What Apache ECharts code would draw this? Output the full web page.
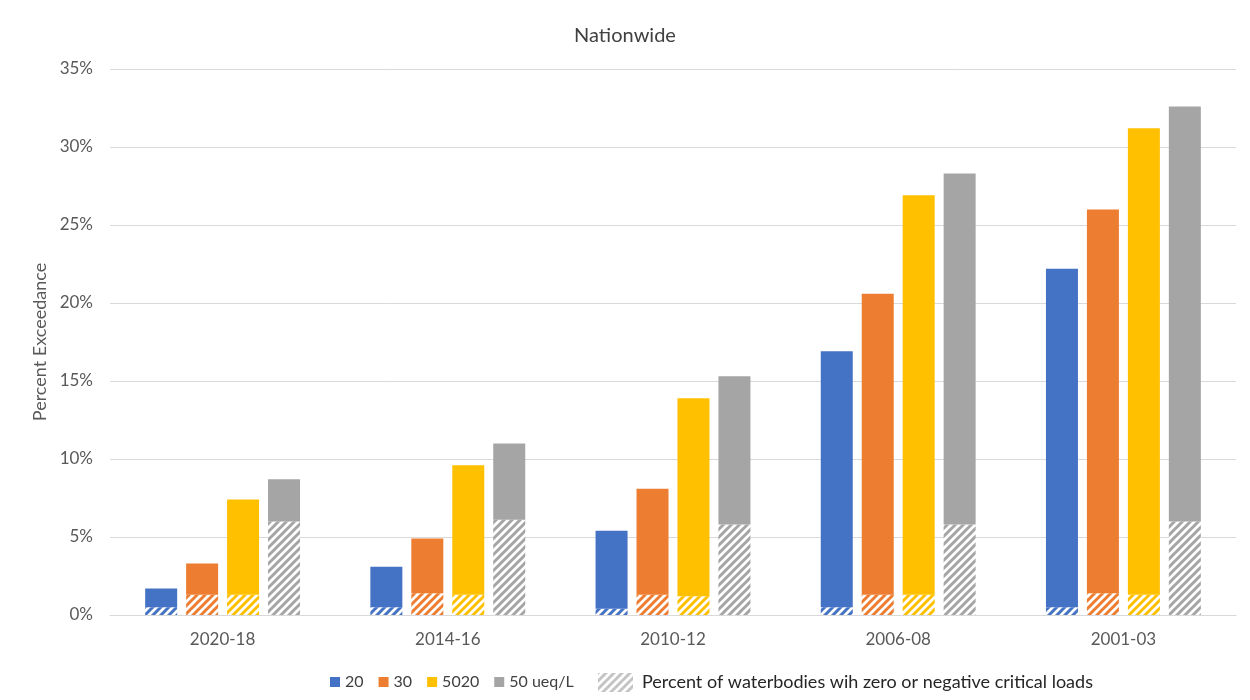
<!DOCTYPE html>
<html>
<head>
<meta charset="utf-8">
<script src="https://cdn.jsdelivr.net/npm/echarts@6/dist/echarts.min.js"></script>
<style>
  html, body { margin: 0; padding: 0; background: #fff; }
  #chart { width: 1250px; height: 700px; }
</style>
</head>
<body>
<div id="chart"></div>
<script>
const categories = ['2020-18', '2014-16', '2010-12', '2006-08', '2001-03'];

// bar heights (total, %)
const total20 = [1.7, 3.1, 5.4, 16.9, 22.2];
const total30 = [3.3, 4.9, 8.1, 20.6, 26.0];
const total5020 = [7.4, 9.6, 13.9, 26.9, 31.2];
const total50 = [8.7, 11.0, 15.3, 28.3, 32.6];

// hatched part: waterbodies with zero or negative critical loads (%)
const zero20 = [0.5, 0.5, 0.4, 0.5, 0.5];
const zero30 = [1.3, 1.4, 1.3, 1.3, 1.4];
const zero5020 = [1.3, 1.3, 1.2, 1.3, 1.3];
const zero50 = [6.0, 6.1, 5.8, 5.8, 6.0];

const seriesNames = ['20', '30', '5020', '50 ueq/L'];
const hatchName = 'Percent of waterbodies wih zero or negative critical loads';
const yTicks = [0, 5, 10, 15, 20, 25, 30, 35];

const colors = ['#4472C4', '#ED7D31', '#FFC000', '#A5A5A5'];
const fontFamily = "Lato, 'Open Sans', 'Noto Sans', sans-serif";

// diagonal stripe pattern, "/" direction
const makeHatch = (color, size, lw) => {
  const c = document.createElement('canvas');
  c.width = size;
  c.height = size;
  const ctx = c.getContext('2d');
  ctx.fillStyle = '#fff';
  ctx.fillRect(0, 0, size, size);
  ctx.strokeStyle = color;
  ctx.lineWidth = lw;
  ctx.beginPath();
  ctx.moveTo(-1, size + 1); ctx.lineTo(size + 1, -1);
  ctx.moveTo(-1, 1); ctx.lineTo(1, -1);
  ctx.moveTo(size - 1, size + 1); ctx.lineTo(size + 1, size - 1);
  ctx.stroke();
  return { image: c, repeat: 'repeat' };
};

const totals = [total20, total30, total5020, total50];
const zeros = [zero20, zero30, zero5020, zero50];

const series = [];
seriesNames.forEach((name, i) => {
  series.push({
    name: hatchName,
    type: 'bar',
    stack: 's' + i,
    barWidth: 32,
    barGap: '28%',
    data: zeros[i],
    itemStyle: { color: makeHatch(colors[i], 8, 3) },
    emphasis: { disabled: true },
  });
  series.push({
    name: name,
    type: 'bar',
    stack: 's' + i,
    barWidth: 32,
    barGap: '28%',
    data: totals[i].map((v, k) => +(v - zeros[i][k]).toFixed(2)),
    itemStyle: { color: colors[i] },
    emphasis: { disabled: true },
  });
});

const chart = echarts.init(document.getElementById('chart'));

chart.setOption({
  backgroundColor: '#fff',
  animation: false,
  textStyle: { fontFamily: fontFamily },
  title: {
    text: 'Nationwide',
    left: 'center',
    top: 21,
    textStyle: { fontSize: 20, fontWeight: 'normal', color: '#404040', fontFamily: fontFamily },
  },
  grid: { left: 110, right: 14, top: 69, bottom: 85 },
  legend: [
    {
      data: seriesNames,
      left: 325,
      top: 669,
      icon: 'rect',
      itemWidth: 10,
      itemHeight: 10,
      itemGap: 15,
      textStyle: { fontSize: 16, color: '#404040', fontFamily: fontFamily },
    },
    {
      data: [{ name: hatchName, itemStyle: { color: makeHatch('#c4c4c4', 8, 3) } }],
      left: 593,
      top: 668,
      icon: 'rect',
      itemWidth: 35,
      itemHeight: 19,
      textStyle: { fontSize: 18, color: '#262626', fontFamily: fontFamily, padding: [0, 0, 0, 4] },
    },
  ],
  xAxis: {
    type: 'category',
    data: categories,
    axisLine: { lineStyle: { color: '#d9d9d9' } },
    axisTick: { show: false },
    axisLabel: { fontSize: 17, color: '#595959', margin: 16 },
  },
  yAxis: {
    type: 'value',
    min: yTicks[0],
    max: yTicks[yTicks.length - 1],
    interval: 5,
    name: 'Percent Exceedance',
    nameLocation: 'middle',
    nameGap: 60,
    nameTextStyle: { fontSize: 18, color: '#595959' },
    axisLabel: { formatter: '{value}%', fontSize: 17, color: '#595959', margin: 17 },
    splitLine: { lineStyle: { color: '#d9d9d9' } },
  },
  series: series,
});
</script>
</body>
</html>
